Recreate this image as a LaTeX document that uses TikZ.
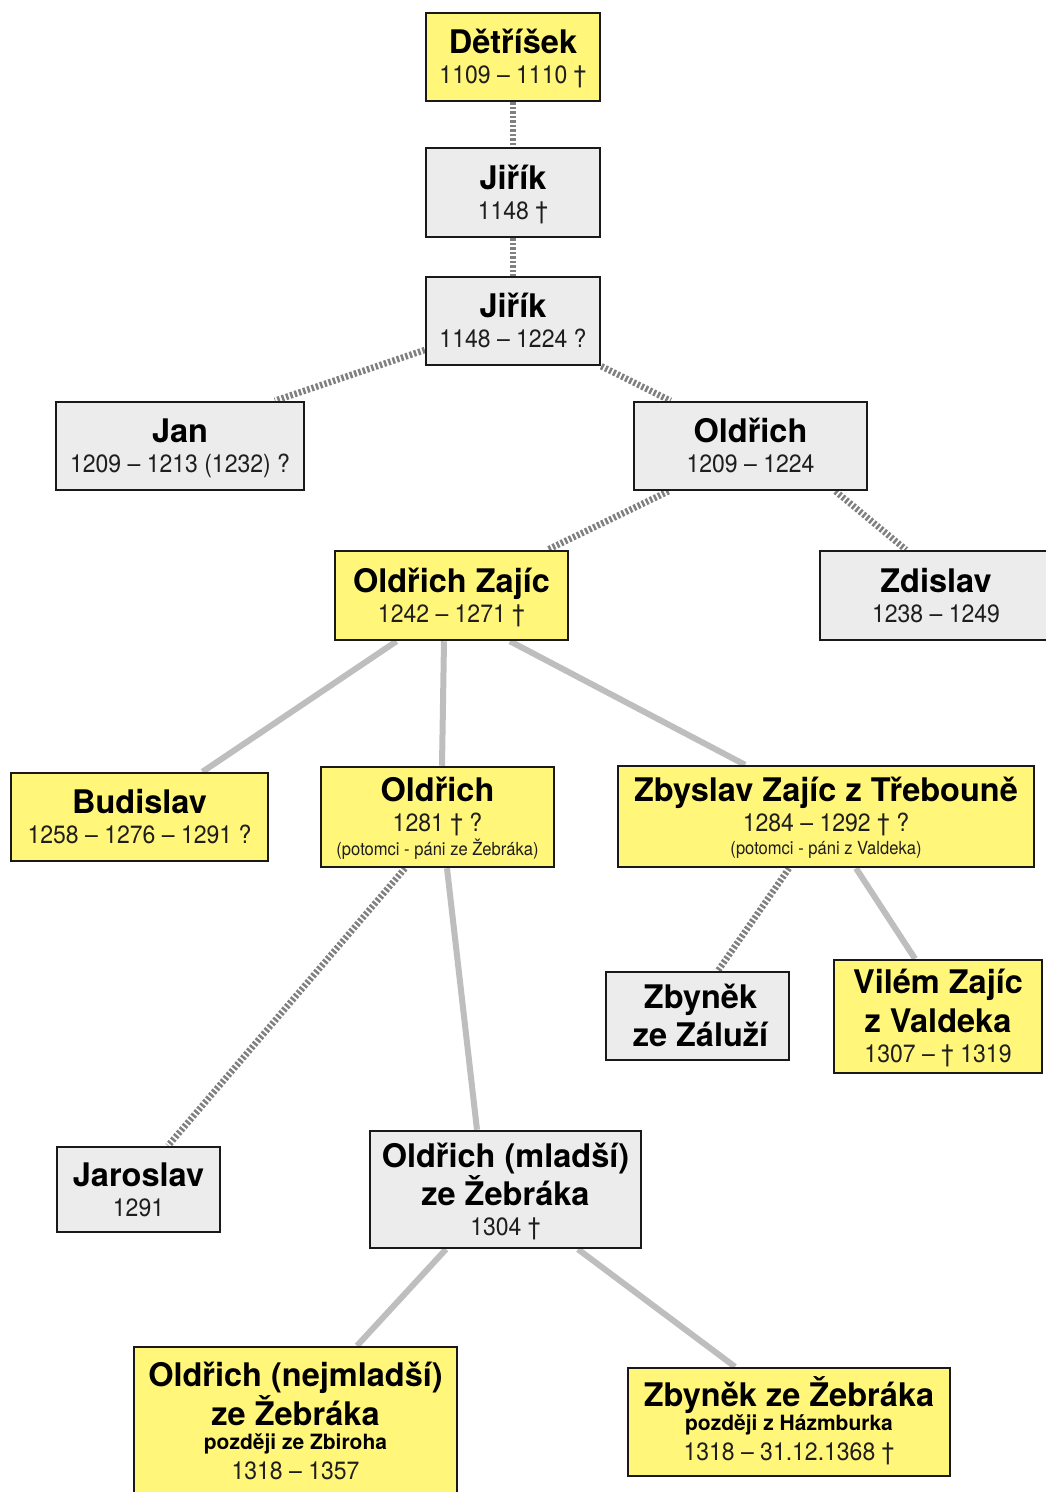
\documentclass[tikz,border=0pt]{standalone}
\usepackage{fontspec}
\setmainfont{TeX Gyre Heros}
\newfontfamily\datefam[FakeStretch=0.92]{TeX Gyre Heros}
\newfontfamily\smallfam[FakeStretch=0.92]{TeX Gyre Heros}
\usetikzlibrary{backgrounds}
\definecolor{boxyellow}{RGB}{255,246,122}
\definecolor{boxgray}{RGB}{236,236,236}
\definecolor{dotgray}{RGB}{128,128,128}
\definecolor{solgray}{RGB}{190,190,190}
\definecolor{edgeblack}{RGB}{25,25,25}
\definecolor{datetext}{RGB}{30,30,30}
\newcommand\PName[1]{{\fontsize{32.5}{30}\selectfont\bfseries #1}}
\newcommand\PDate[1]{{\datefam\fontsize{25}{30}\selectfont\color{datetext}#1}}
\newcommand\PSmall[1]{{\smallfam\fontsize{18}{30}\selectfont\color{datetext}#1}}
\newcommand\PSmallB[1]{{\fontsize{21}{30}\selectfont\bfseries #1}}
\newcommand\TStr{\rule{0pt}{31pt}}
\newcommand\BStr{\rule[-8pt]{0pt}{8pt}}
\begin{document}
\begin{tikzpicture}[x=1pt,y=-1pt,
  box/.style={draw=edgeblack, line width=2.5pt, inner sep=0pt, align=center,
    font={\fontsize{25}{30}\selectfont\lineskiplimit=-100pt}},
  ybox/.style={box, fill=boxyellow},
  gbox/.style={box, fill=boxgray},
  dotc/.style={draw=dotgray, line width=6.5pt, dash pattern=on 2.5pt off 2pt},
  solc/.style={draw=solgray, line width=6pt}]
\useasboundingbox (0,0) rectangle (1046,1492);

\node[ybox, minimum width=174pt, minimum height=88pt] (det) at (513,57)
  {\TStr\PName{Dětříšek}\\\PDate{1109 – 1110 †}\BStr};
\node[gbox, minimum width=174pt, minimum height=89pt] (jir1) at (513,192.5)
  {\TStr\PName{Jiřík}\\\PDate{1148 †}\BStr};
\node[gbox, minimum width=174pt, minimum height=88pt] (jir2) at (513,321)
  {\TStr\PName{Jiřík}\\\PDate{1148 – 1224 ?}\BStr};
\node[gbox, minimum width=248pt, minimum height=88pt] (jan) at (180,446)
  {\TStr\PName{Jan}\\\PDate{1209 – 1213 (1232) ?}\BStr};
\node[gbox, minimum width=233pt, minimum height=88pt] (old1) at (750.5,446)
  {\TStr\PName{Oldřich}\\\PDate{1209 – 1224}\BStr};
\node[ybox, minimum width=233pt, minimum height=89pt] (zajic) at (451.5,595.5)
  {\TStr\PName{Oldřich Zajíc}\\\PDate{1242 – 1271 †}\BStr};
\node[gbox, minimum width=232pt, minimum height=89pt] (zdislav) at (936,595.5)
  {\TStr\PName{Zdislav}\\\PDate{1238 – 1249}\BStr};
\node[ybox, minimum width=257pt, minimum height=88pt] (budislav) at (139.5,817)
  {\TStr\PName{Budislav}\\\PDate{1258 – 1276 – 1291 ?}\BStr};
\node[ybox, minimum width=233pt, minimum height=100pt] (old2) at (437.5,817)
  {\TStr\PName{Oldřich}\\\PDate{1281 † ?}\\[-6.5pt]\PSmall{(potomci - páni ze Žebráka)}\BStr};
\node[ybox, minimum width=416pt, minimum height=101pt] (zbyslav) at (826,816.5)
  {\TStr\PName{Zbyslav Zajíc z Třebouně}\\\PDate{1284 – 1292 † ?}\\[-7pt]\PSmall{(potomci - páni z Valdeka)}\BStr};
\node[gbox, minimum width=183pt, minimum height=88pt] (zaluzi) at (697.5,1016)
  {\TStr\hspace{6pt}\PName{Zbyněk}\\[8pt]\hspace{6pt}\PName{ze Záluží}\BStr};
\node[ybox, minimum width=208pt, minimum height=113pt] (vilem) at (938,1016.5)
  {\TStr\PName{Vilém Zajíc}\\[9pt]\PName{z Valdeka}\\\PDate{1307 – † 1319}\BStr};
\node[gbox, minimum width=163pt, minimum height=85pt] (jaroslav) at (138.5,1189.5)
  {\TStr\PName{Jaroslav}\\\PDate{1291}\BStr};
\node[gbox, minimum width=271pt, minimum height=117pt] (mladsi) at (505.5,1189.5)
  {\TStr\PName{Oldřich (mladší)}\\[8pt]\PName{ze Žebráka}\\\PDate{1304 †}\BStr};
\node[ybox, minimum width=323pt, minimum height=148pt] (nejml) at (295.5,1421)
  {\TStr\PName{Oldřich (nejmladší)}\\[9pt]\PName{ze Žebráka}\\[-6pt]\PSmallB{později ze Zbiroha}\\\PDate{1318 – 1357}\BStr};
\node[ybox, minimum width=322pt, minimum height=108pt] (zebrak) at (789,1422)
  {\TStr\PName{Zbyněk ze Žebráka}\\[-6pt]\PSmallB{později z Házmburka}\\\PDate{1318 – 31.12.1368 †}\BStr};

\begin{pgfonlayer}{background}
\fill[white] (0,0) rectangle (1046,1492);
\draw[dotc] (det.south) -- (jir1.north);
\draw[dotc] (jir1.south) -- (jir2.north);
\draw[dotc] ([yshift=-29pt]jir2.west) -- ([xshift=95pt]jan.north);
\draw[dotc] (jir2.south east) -- ([xshift=-80pt]old1.north);
\draw[dotc] ([xshift=-82pt]old1.south) -- ([xshift=96pt]zajic.north);
\draw[dotc] ([xshift=85pt]old1.south) -- ([xshift=-30pt]zdislav.north);
\draw[solc] ([xshift=-55pt]zajic.south) -- ([xshift=63pt]budislav.north);
\draw[solc] ([xshift=-7.5pt]zajic.south) -- ([xshift=4.5pt]old2.north);
\draw[solc] ([xshift=58.5pt]zajic.south) -- ([xshift=-81pt]zbyslav.north);
\draw[dotc] ([xshift=-32.5pt]old2.south) -- ([xshift=29.5pt]jaroslav.north);
\draw[solc] ([xshift=9.5pt]old2.south) -- ([xshift=-28.5pt]mladsi.north);
\draw[dotc] ([xshift=-37pt]zbyslav.south) -- ([xshift=20.5pt]zaluzi.north);
\draw[solc] ([xshift=30pt]zbyslav.south) -- ([xshift=-23pt]vilem.north);
\draw[solc] ([xshift=-59.5pt]mladsi.south) -- ([xshift=61.5pt]nejml.north);
\draw[solc] ([xshift=72.5pt]mladsi.south) -- ([xshift=-54pt]zebrak.north);
\end{pgfonlayer}
\end{tikzpicture}
\end{document}
